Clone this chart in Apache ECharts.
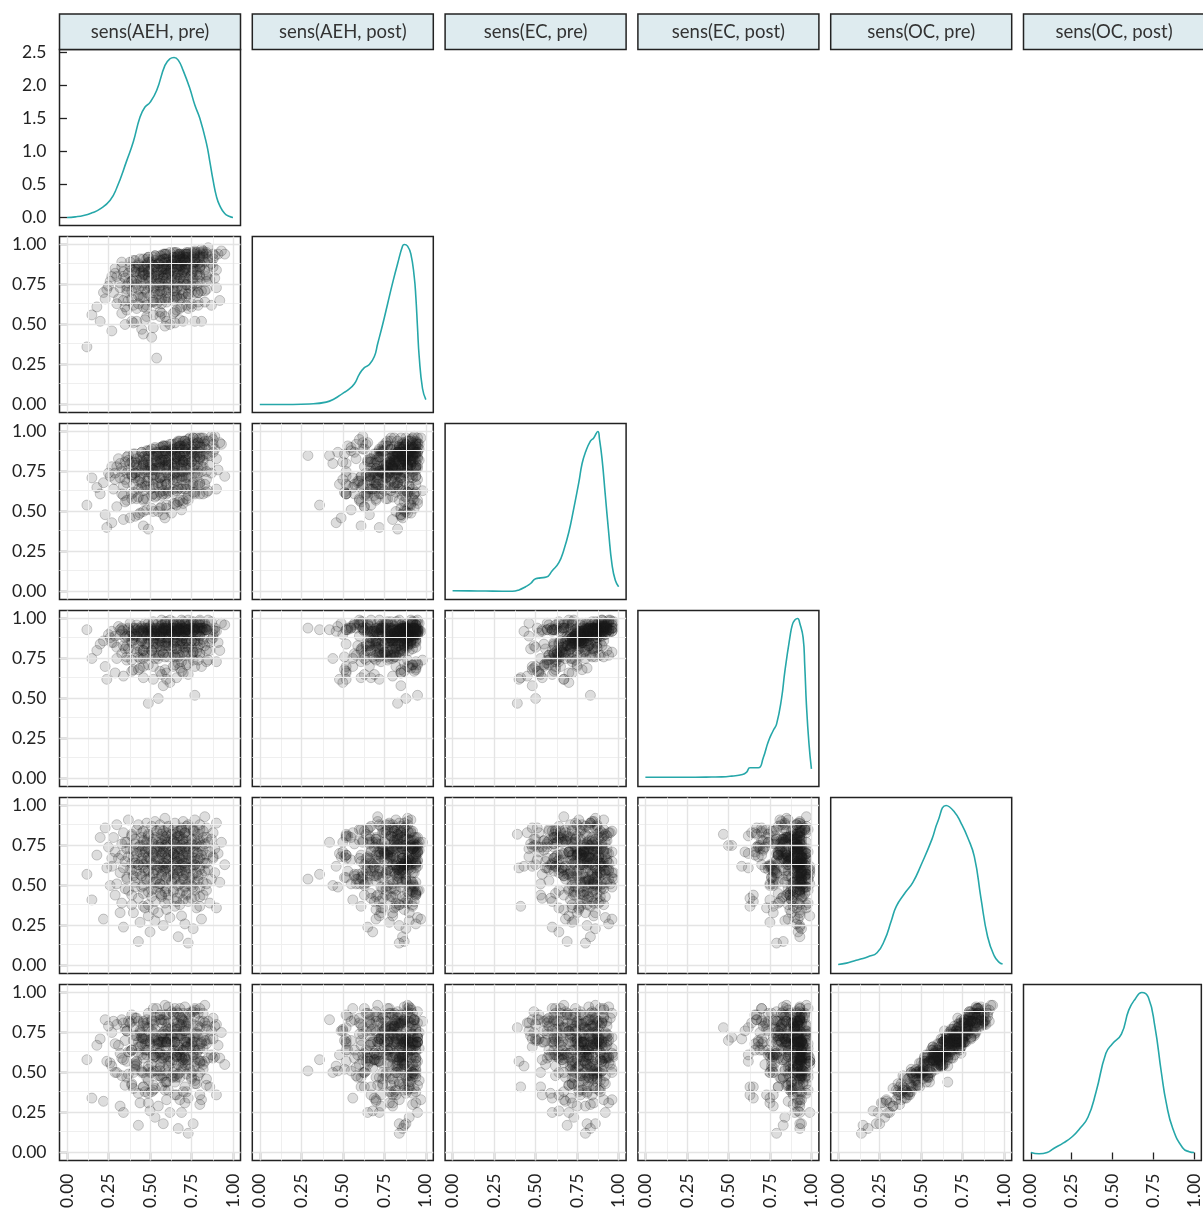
<!DOCTYPE html>
<html>
<head>
<meta charset="utf-8">
<title>sens pairs</title>
<script src="https://cdn.jsdelivr.net/npm/echarts@6.0.0/dist/echarts.min.js"></script>
<style>
  html, body { margin: 0; padding: 0; background: #ffffff; }
  #chart { width: 1203px; height: 1216px; }
</style>
</head>
<body>
<div id="chart"></div>
<script>
// Sensitivity per respondent, in percent, one array per measure (same respondent order in all).
const aehPre = [
  22,15,26,12,24,27,18,25,20,23, 30,28,33,29,31,27,32,30,29,32, 34,33,35,36,34,35,33,36,35,34, 37,39,36,38,37,39,38,36,37,39,
  40,39,41,40,39,41,40,40,41,39, 42,41,43,42,41,43,42,42,41,43, 44,43,45,44,43,45,44,44,45,43, 45,46,46,45,46,45,46,45,46,46,
  47,46,48,47,46,48,47,47,48,46, 48,49,48,49,49,48,49,48,49,49, 50,49,51,50,49,51,50,50,51,49, 51,52,52,51,52,51,52,52,51,52,
  53,52,53,52,53,53,52,53,52,53, 54,53,55,54,53,55,54,54,55,53, 55,56,56,55,56,55,56,56,55,56, 56,57,57,56,57,56,57,57,56,57,
  58,57,58,57,58,58,57,58,57,58, 59,58,59,59,58,59,59,58,59,59, 60,59,60,59,60,60,59,60,59,60, 61,60,61,60,61,61,60,61,60,61,
  62,61,63,62,61,63,62,62,63,61, 64,63,64,63,64,64,63,64,63,64, 65,64,65,64,65,65,64,65,64,65, 65,66,66,65,66,65,66,66,65,66,
  67,66,67,66,67,67,66,67,66,67, 68,67,68,68,67,68,68,67,68,68, 69,68,69,68,69,69,68,69,68,69, 70,69,70,70,69,70,70,69,70,70,
  71,70,71,70,71,71,70,71,70,71, 72,71,72,71,72,72,71,72,71,72, 73,72,73,72,73,73,72,73,72,73, 74,73,75,74,73,75,74,74,75,73,
  76,75,76,75,76,76,75,76,75,76, 77,76,77,77,76,77,77,76,77,77, 78,77,79,78,77,79,78,78,79,77, 80,79,80,80,79,80,80,79,80,80,
  81,80,82,81,80,82,81,81,82,80, 83,82,84,83,82,84,83,83,84,82, 86,84,87,85,84,88,86,85,87,84, 90,88,93,89,91,88,95,89,92,90
];
const aehPost = [
  70,56,77,36,72,80,61,74,52,66, 80,70,57,85,66,46,76,63,82,73, 65,89,79,72,83,61,86,74,50,80, 82,52,70,86,65,77,89,59,76,84,
  90,71,83,62,77,86,51,78,85,66, 60,83,85,75,90,68,78,52,73,87, 78,88,47,82,63,86,67,91,80,72, 74,81,91,67,86,78,84,83,44,61,
  81,67,88,53,82,91,72,86,60,76, 87,79,62,92,73,55,83,70,89,80, 68,92,82,74,85,64,89,77,42,83, 85,56,73,89,70,80,92,64,79,87,
  93,74,86,65,80,88,48,81,87,71, 63,86,88,78,93,69,83,29,76,90, 80,90,55,84,65,88,71,93,81,74, 76,83,93,69,90,78,86,84,58,63,
  84,70,91,57,85,94,77,88,66,79, 89,81,66,94,75,49,85,72,91,82, 70,94,84,77,87,64,91,79,55,85, 87,52,75,91,72,82,94,66,81,89,
  95,76,88,67,82,90,50,83,89,73, 65,88,90,80,95,71,85,57,78,92, 82,92,58,86,67,90,73,95,83,76, 78,85,95,71,92,80,88,86,51,67,
  86,72,93,59,87,94,79,90,68,81, 91,83,66,94,77,60,87,74,92,84, 72,94,86,79,89,66,93,81,53,87, 89,61,77,93,74,84,94,68,83,91,
  94,78,90,69,84,92,52,85,91,75, 67,90,92,82,95,75,87,62,80,94, 84,94,60,88,69,92,75,95,85,78, 80,87,95,73,94,82,90,88,63,69,
  88,74,93,61,89,95,81,92,70,83, 91,85,70,95,79,52,89,76,94,86, 74,96,88,81,91,70,95,83,62,89, 89,64,81,93,76,86,95,70,85,92,
  97,80,92,71,86,95,52,87,93,77, 71,92,94,84,96,77,89,64,80,94, 87,95,62,91,72,94,78,98,88,81, 84,91,96,79,94,86,94,93,65,73
];
const ecPre = [
  68,71,72,54,40,78,65,74,61,48, 78,64,61,70,83,43,71,53,74,80, 60,77,70,84,66,56,75,74,81,45, 76,61,57,46,82,73,80,68,85,72,
  86,73,74,67,58,81,62,79,47,81, 58,86,48,79,71,64,83,80,74,69, 72,59,87,84,78,82,70,49,65,75, 68,84,79,77,63,74,57,87,80,41,
  76,81,82,66,50,88,75,85,69,58, 83,69,66,75,88,51,76,58,79,85, 64,81,73,88,71,60,79,78,85,39, 80,65,61,52,86,77,84,72,89,76,
  89,76,77,70,59,85,67,82,50,84, 60,90,50,81,77,68,87,85,78,73, 75,62,90,87,81,85,71,52,66,78, 71,87,82,80,66,77,60,90,83,53,
  81,82,85,67,48,91,78,88,72,63, 86,72,69,78,91,46,79,61,82,88, 67,84,76,91,74,61,82,79,88,52, 82,67,63,54,88,81,86,72,91,78,
  92,79,80,73,62,88,70,85,49,87, 62,92,55,85,77,70,89,87,80,73, 77,64,92,89,83,87,75,55,68,80, 74,90,84,81,71,78,63,93,86,54,
  83,84,87,69,56,93,80,90,74,65, 89,75,72,81,94,57,82,64,85,91, 70,87,79,94,77,64,85,82,91,51, 85,72,66,57,91,82,89,75,94,81,
  94,81,82,75,64,90,72,87,55,88, 64,94,58,87,79,72,91,89,82,77, 80,67,95,92,86,90,76,57,71,83, 77,93,87,84,72,81,66,96,89,60,
  86,87,90,72,62,96,81,93,77,68, 91,77,74,83,96,61,84,66,87,92, 72,89,81,96,79,66,87,84,93,62, 87,74,68,61,93,84,90,77,96,83,
  96,84,85,78,67,93,75,90,61,91, 67,96,62,90,82,75,94,92,85,78, 85,70,97,94,89,92,79,63,74,86, 83,95,92,89,76,87,72,97,93,64
];
const ecPost = [
  86,75,88,93,62,85,80,90,84,70, 82,85,78,66,95,92,90,75,89,93, 93,92,88,76,83,81,94,89,90,64, 81,67,74,89,94,91,97,83,93,86,
  88,85,89,94,74,94,68,90,81,92, 96,90,68,79,87,76,89,93,93,83, 75,94,95,93,92,87,80,69,86,91, 94,91,92,88,80,86,93,92,75,63,
  91,80,93,94,70,90,84,97,89,77, 84,87,82,71,94,94,92,77,91,93, 92,97,89,77,84,80,95,90,93,47, 80,70,77,91,92,92,98,84,94,87,
  89,86,90,97,75,94,62,91,82,93, 93,91,50,82,88,75,90,94,97,84, 77,93,95,92,91,87,82,67,84,89, 94,91,93,89,80,86,92,99,77,65,
  93,83,94,96,58,91,85,92,88,78, 85,88,83,68,94,97,93,78,92,98, 94,93,88,76,85,83,97,90,94,66, 83,62,78,92,93,93,98,85,95,88,
  90,87,91,99,76,92,60,92,83,94, 96,92,70,81,90,78,91,97,94,87, 77,98,94,94,92,88,83,71,85,90, 93,92,93,90,81,85,94,95,76,63,
  93,81,94,97,72,92,86,92,90,76, 85,88,83,69,97,97,93,78,92,93, 99,96,89,77,86,84,94,91,93,67, 82,73,79,93,95,94,94,86,98,89,
  91,88,92,92,77,97,66,93,84,97, 97,93,71,82,91,79,92,93,94,86, 79,93,99,95,93,89,84,72,86,91, 96,93,94,91,82,86,92,94,77,65,
  94,82,97,98,74,92,86,94,91,79, 86,89,84,52,98,93,94,79,93,95, 97,93,90,79,86,82,92,91,94,70, 84,74,78,93,97,94,99,86,96,89,
  92,89,93,94,78,97,70,94,85,98, 97,94,73,83,92,80,93,94,93,87, 80,93,98,99,95,90,85,74,87,93, 92,93,97,92,85,88,96,94,80,73
];
const ocPre = [
  29,41,50,57,61,67,69,74,80,86, 88,80,76,71,67,62,58,51,44,33, 24,39,48,55,61,65,69,73,77,83, 91,82,77,73,68,64,60,54,47,38,
  33,44,52,56,60,64,68,72,76,81, 85,79,74,70,66,63,59,55,49,15, 27,42,49,57,63,67,71,75,80,88, 83,78,75,72,69,65,61,56,50,37,
  36,45,54,59,63,65,71,73,78,84, 89,81,77,73,68,66,60,53,46,31, 21,38,47,55,59,64,67,72,77,82, 87,83,76,71,69,63,58,52,43,35,
  40,48,52,57,63,65,70,73,79,90, 84,80,75,72,68,62,60,54,49,28, 33,45,51,58,61,66,71,74,77,85, 88,82,78,74,70,67,63,57,51,44,
  25,43,50,56,62,64,69,73,76,81, 92,84,79,75,71,68,64,59,53,39, 35,46,55,60,63,67,70,76,80,83, 86,81,77,74,69,66,61,56,48,41,
  30,44,53,59,62,68,71,75,79,87, 85,82,78,72,70,65,62,57,52,46, 37,47,54,58,64,66,70,72,78,82, 89,83,80,76,73,69,65,60,55,42,
  18,40,50,57,61,65,68,74,77,84, 84,81,77,73,70,67,63,58,51,38, 31,45,52,59,63,66,72,75,81,86, 90,85,79,76,72,68,64,59,54,47,
  26,41,49,56,60,64,69,73,78,83, 87,83,78,74,71,66,62,58,53,45, 14,44,51,57,61,67,70,74,80,88, 86,81,76,73,69,65,61,55,50,40,
  23,42,49,55,62,65,68,73,79,85, 91,84,79,75,71,67,63,57,52,43, 36,47,53,58,63,66,71,76,78,84, 88,82,78,74,70,67,62,56,49,37,
  29,43,52,57,60,66,69,75,80,85, 93,84,80,76,72,69,64,59,51,44, 39,47,54,60,64,68,71,77,79,86, 89,83,77,73,70,67,63,58,52,36
];
const ocPost = [
  32,34,56,58,57,75,67,79,71,83, 80,82,83,68,67,54,62,50,50,29, 25,48,42,57,58,70,59,76,77,81, 82,86,76,81,63,64,63,47,49,43,
  40,42,52,50,64,55,70,78,73,82, 84,84,66,73,54,69,55,57,56,17, 31,37,51,66,62,61,76,75,72,82, 75,79,81,68,72,72,59,50,50,41,
  38,41,47,64,71,64,71,68,81,82, 83,87,78,64,70,70,54,61,45,31, 26,37,50,50,52,76,68,69,83,78, 82,90,72,71,75,55,61,51,38,39,
  40,42,60,59,60,70,61,77,80,85, 90,82,70,65,72,62,68,51,48,22, 29,48,51,65,55,68,69,83,69,86, 86,74,83,62,73,63,69,57,53,41,
  18,47,48,59,71,59,69,72,81,75, 92,83,86,69,69,76,60,61,44,39, 33,51,44,61,69,64,74,69,82,86, 91,78,77,69,71,60,68,57,44,39,
  25,50,56,57,54,69,76,71,88,81, 87,73,82,78,69,62,62,64,47,47, 36,50,48,58,69,44,72,69,86,78, 90,81,88,69,74,74,60,60,52,36,
  15,47,49,61,55,67,77,66,77,87, 90,81,73,64,73,74,61,63,50,33, 25,47,57,60,60,59,80,73,85,83, 87,80,82,83,84,64,63,53,56,52,
  31,38,41,58,60,70,64,76,76,76, 80,91,79,69,69,69,55,58,59,49, 12,38,55,66,58,68,66,81,72,87, 86,82,69,71,77,60,66,52,50,34,
  18,46,51,47,61,72,68,69,88,88, 89,80,85,72,65,69,54,61,57,43, 43,45,48,62,64,58,74,75,74,90, 82,87,78,68,79,65,57,64,50,30,
  33,36,55,57,56,72,68,69,82,90, 92,87,77,81,65,70,70,57,46,52, 41,42,61,59,68,59,71,82,76,79, 80,84,75,79,67,71,55,60,59,36
];

const measureNames = ['sens(AEH, pre)', 'sens(AEH, post)', 'sens(EC, pre)', 'sens(EC, post)', 'sens(OC, pre)', 'sens(OC, post)'];

// Kernel density curves for the diagonal. AEH pre is in density units;
// the other five are rescaled so that their peak is 1.
const densAehPreX = [0, .05, .1, .15, .2, .26, .3, .36, .4, .44, .47, .5, .54, .59, .62, .645, .67, .7, .74, .77, .8, .84, .86, .88, .9, .92, .95, .98, 1];
const densAehPreY = [0, .01, .03, .07, .13, .26, .45, .86, 1.15, 1.52, 1.67, 1.74, 1.92, 2.3, 2.4, 2.42, 2.38, 2.22, 1.95, 1.7, 1.5, 1.12, .85, .56, .32, .18, .06, .015, 0];
const densAehPostX = [0, .1, .2, .3, .4, .45, .5, .53, .57, .6, .63, .66, .69, .71, .74, .77, .8, .83, .86, .87, .89, .91, .93, .94, .95, .96, .98, 1];
const densAehPostY = [0, 0, 0, .003, .015, .036, .07, .09, .13, .19, .23, .25, .3, .38, .5, .63, .76, .88, .99, 1, .99, .94, .8, .67, .48, .3, .1, .03];
const densEcPreX = [0, .1, .2, .3, .36, .4, .44, .47, .5, .53, .565, .6, .64, .67, .7, .73, .76, .78, .8, .83, .85, .875, .885, .9, .92, .94, .96, .98, 1];
const densEcPreY = [.005, .004, .003, .002, .002, .01, .03, .05, .08, .085, .09, .13, .18, .26, .37, .52, .68, .8, .87, .94, .96, 1, .95, .83, .6, .37, .17, .07, .03];
const densEcPostX = [0, .1, .2, .3, .4, .46, .52, .585, .61, .63, .68, .71, .74, .77, .79, .82, .84, .87, .885, .9, .917, .93, .95, .96, .97, .985, 1];
const densEcPostY = [.008, .008, .008, .008, .009, .01, .015, .025, .04, .067, .067, .13, .23, .3, .34, .5, .67, .88, .96, .99, 1, .97, .88, .7, .46, .22, .06];
const densOcPreX = [0, .05, .1, .136, .18, .234, .28, .32, .35, .4, .45, .5, .565, .6, .65, .7, .74, .78, .82, .86, .9, .94, .97, .99];
const densOcPreY = [.006, .015, .03, .04, .055, .08, .16, .28, .37, .45, .52, .63, .79, .9, 1, .96, .89, .8, .68, .42, .18, .06, .02, .01];
const densOcPostX = [0, .05, .1, .14, .2, .255, .3, .35, .4, .46, .5, .555, .6, .64, .68, .72, .76, .8, .83, .87, .93, .97, 1];
const densOcPostY = [0, -.008, 0, .025, .06, .1, .15, .22, .38, .62, .68, .74, .89, .96, 1, .97, .79, .5, .31, .15, .03, .005, 0];

const unitTicks = [0, 0.25, 0.5, 0.75, 1];
const densityTicks = [0, 0.5, 1, 1.5, 2, 2.5];
const gridMajor = [0, 0.25, 0.5, 0.75, 1];
const gridMinor = [0.125, 0.375, 0.625, 0.875];

// ---- layout ----
const measures = [aehPre, aehPost, ecPre, ecPost, ocPre, ocPost];
const densities = [
  [densAehPreX, densAehPreY], [densAehPostX, densAehPostY], [densEcPreX, densEcPreY],
  [densEcPostX, densEcPostY], [densOcPreX, densOcPreY], [densOcPostX, densOcPostY]
];
const PANEL_W = 181, PANEL_H = 176, STEP_X = 192.8, STEP_Y = 187, LEFT0 = 59.5, TOP0 = 49.5;
const X_MIN = -0.045, X_MAX = 1.045, Y_MIN = -0.05, Y_MAX = 1.05;
const FONT = 'Lato';
const INK = '#222222';
const TICK_FONT = 17.5;

const grids = [], xAxes = [], yAxes = [], series = [], graphics = [];

const gridLineData = [];
gridMinor.forEach(v => {
  gridLineData.push({ xAxis: v, lineStyle: { color: '#efefef', width: 1, type: 'solid' } });
  gridLineData.push({ yAxis: v, lineStyle: { color: '#efefef', width: 1, type: 'solid' } });
});
gridMajor.forEach(v => {
  gridLineData.push({ xAxis: v, lineStyle: { color: '#e4e4e4', width: 1.4, type: 'solid' } });
  gridLineData.push({ yAxis: v, lineStyle: { color: '#e4e4e4', width: 1.4, type: 'solid' } });
});

let gi = 0;
for (let r = 0; r < 6; r++) {
  for (let c = 0; c <= r; c++) {
    grids.push({
      left: LEFT0 + c * STEP_X, top: TOP0 + r * STEP_Y, width: PANEL_W, height: PANEL_H,
      show: true, borderColor: INK, borderWidth: 1.5, backgroundColor: 'rgba(0,0,0,0)'
    });
    const bottomRow = r === 5, firstCol = c === 0, topDensity = r === 0;
    xAxes.push({
      type: 'value', gridIndex: gi, min: X_MIN, max: X_MAX,
      axisLine: { show: false }, splitLine: { show: false },
      axisTick: { show: bottomRow, length: 7, customValues: unitTicks, lineStyle: { color: INK, width: 1.3 } },
      axisLabel: {
        show: bottomRow, customValues: unitTicks, rotate: 90, margin: 13,
        fontFamily: FONT, fontSize: TICK_FONT, color: INK, formatter: v => v.toFixed(2)
      }
    });
    const ticks = topDensity ? densityTicks : unitTicks;
    yAxes.push({
      type: 'value', gridIndex: gi,
      min: topDensity ? -0.121 : Y_MIN, max: topDensity ? 2.54 : Y_MAX,
      axisLine: { show: false }, splitLine: { show: false },
      axisTick: { show: firstCol, length: 7, customValues: ticks, lineStyle: { color: INK, width: 1.3 } },
      axisLabel: {
        show: firstCol, customValues: ticks, margin: 13,
        fontFamily: FONT, fontSize: TICK_FONT, color: INK,
        formatter: v => topDensity ? v.toFixed(1) : v.toFixed(2)
      }
    });
    if (r === c) {
      const [dx, dy] = densities[c];
      series.push({
        type: 'line', xAxisIndex: gi, yAxisIndex: gi,
        data: dx.map((x, i) => [x, dy[i]]),
        showSymbol: false, smooth: 0.5,
        lineStyle: { color: '#26a7a9', width: 1.6 }, silent: true, z: 3
      });
    } else {
      series.push({
        type: 'line', xAxisIndex: gi, yAxisIndex: gi, data: [], silent: true, z: 1,
        markLine: { silent: true, symbol: 'none', animation: false, label: { show: false }, data: gridLineData }
      });
      const xs = measures[c], ys = measures[r];
      series.push({
        type: 'scatter', xAxisIndex: gi, yAxisIndex: gi,
        data: xs.map((x, i) => [x / 100, ys[i] / 100]),
        symbolSize: 10, silent: true, z: 2,
        itemStyle: { color: 'rgba(30,30,30,0.19)', borderColor: 'rgba(30,30,30,0.3)', borderWidth: 0.9 }
      });
    }
    gi++;
  }
}

// strip headers above each column
for (let c = 0; c < 6; c++) {
  const x0 = LEFT0 + c * STEP_X;
  graphics.push({
    type: 'rect', shape: { x: x0, y: 14, width: PANEL_W, height: 35.5 },
    style: { fill: '#deebef', stroke: INK, lineWidth: 1.5 }, silent: true
  });
  graphics.push({
    type: 'text', x: x0 + PANEL_W / 2, y: 32,
    style: { text: measureNames[c], fill: '#333333', font: '18.5px Lato', align: 'center', verticalAlign: 'middle' },
    silent: true
  });
}

const chart = echarts.init(document.getElementById('chart'), null, { renderer: 'canvas' });
chart.setOption({
  animation: false,
  backgroundColor: '#ffffff',
  grid: grids, xAxis: xAxes, yAxis: yAxes, series: series, graphic: graphics
});
</script>
</body>
</html>
